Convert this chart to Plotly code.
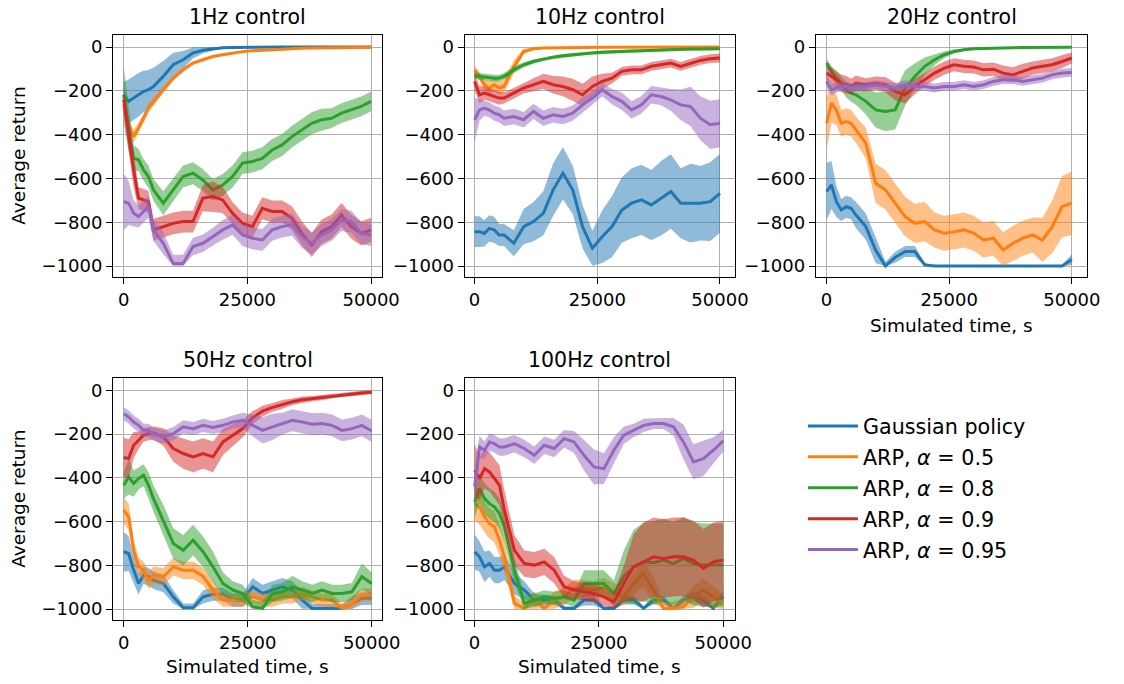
import numpy as np
import plotly.graph_objects as go

# ---------------- data ----------------
T = [0, 1000, 2000, 3000, 4000, 5000, 6000, 8000, 10000, 12000, 14000, 16000, 18000, 20000,
     22000, 24000, 26000, 28000, 30000, 32000, 34000, 36000, 38000, 40000, 42000, 44000,
     46000, 48000, 50000]

SERIES = ["Gaussian policy", "ARP, <i>α</i> = 0.5", "ARP, <i>α</i> = 0.8",
          "ARP, <i>α</i> = 0.9", "ARP, <i>α</i> = 0.95"]
COLORS = ["#1f77b4", "#ff7f0e", "#2ca02c", "#d62728", "#9467bd"]
TITLES = ["1Hz control", "10Hz control", "20Hz control", "50Hz control", "100Hz control"]
XTICKS = [0, 25000, 50000]
XTICKTEXT = ["0", "25000", "50000"]
YTICKS = [0, -200, -400, -600, -800, -1000]
YTICKTEXT = ["0", "−200", "−400", "−600", "−800", "−1000"]

# 1 Hz
HZ1_GAUSS = [-218,-248,-233,-218,-203,-195,-180,-134,-81,-58,-27,-15,-8,-3,-2,-1,-1,-1,-1,0,0,0,0,0,0,0,0,0,0]
HZ1_GAUSS_SD = [60,100,100,100,95,90,85,70,55,40,25,15,8,5,3,2,2,2,2,1,1,1,1,1,1,1,1,1,1]
HZ1_A05 = [-264,-363,-408,-370,-325,-279,-248,-195,-142,-104,-73,-58,-43,-35,-27,-21,-17,-14,-11,-8,-6,-5,-4,-3,-3,-2,-2,-2,-1]
HZ1_A05_SD = [30,35,30,25,20,20,18,15,12,10,8,7,6,5,4,4,3,3,3,2,2,2,2,2,2,2,2,2,2]
HZ1_A08 = [-218,-378,-508,-515,-561,-591,-652,-713,-652,-591,-576,-607,-652,-630,-591,-530,-523,-508,-470,-447,-409,-378,-348,-332,-325,-302,-287,-271,-248]
HZ1_A08_SD = [130,100,60,50,50,50,50,55,50,50,50,50,50,50,50,50,50,50,50,50,50,50,50,50,45,45,45,45,45]
HZ1_A09 = [-241,-400,-561,-690,-698,-706,-835,-820,-805,-797,-797,-690,-683,-698,-759,-805,-820,-736,-751,-751,-782,-851,-904,-843,-820,-767,-820,-851,-835]
HZ1_A09_SD = [60,80,80,50,50,50,50,50,50,50,50,60,70,60,50,50,50,50,50,50,55,55,55,55,55,55,55,55,55]
HZ1_A095 = [-706,-713,-759,-774,-751,-729,-835,-896,-988,-988,-911,-896,-866,-835,-812,-858,-873,-881,-835,-820,-812,-866,-896,-858,-835,-790,-797,-851,-858]
HZ1_A095_SD = [130,100,60,50,50,50,50,50,40,40,40,40,40,45,45,50,50,50,50,50,50,50,50,50,50,50,50,50,50]

# 10 Hz
HZ10_GAUSS = [-843,-843,-851,-828,-835,-858,-858,-896,-820,-797,-759,-652,-576,-652,-820,-919,-866,-820,-744,-713,-698,-721,-690,-660,-713,-713,-713,-706,-668]
HZ10_GAUSS_SD = [70,70,60,60,60,50,50,60,80,90,100,120,120,110,100,80,120,140,150,160,160,160,170,170,160,180,170,180,180]
HZ10_A05 = [-104,-134,-172,-187,-172,-187,-180,-90,-20,-8,-4,-3,-2,-2,-1,-1,-1,-1,-1,0,0,0,0,0,0,0,0,0,0]
HZ10_A05_SD = [20,20,25,30,30,30,30,30,12,5,3,2,2,2,2,2,2,2,2,2,2,2,2,2,2,2,2,2,2]
HZ10_A08 = [-131,-134,-137,-142,-142,-142,-134,-104,-81,-66,-55,-46,-40,-35,-30,-27,-24,-21,-20,-18,-17,-15,-14,-12,-11,-9,-9,-8,-8]
HZ10_A08_SD = [15,15,15,15,15,15,15,15,12,10,8,8,8,8,7,7,7,6,6,6,6,6,6,6,6,6,6,6,6]
HZ10_A09 = [-157,-218,-210,-218,-226,-233,-233,-210,-187,-172,-157,-172,-180,-195,-218,-180,-157,-142,-111,-104,-104,-88,-81,-73,-88,-73,-61,-53,-50]
HZ10_A09_SD = [40,40,30,30,30,30,25,25,25,30,35,40,45,50,50,45,35,25,20,20,20,20,20,20,20,20,20,20,20]
HZ10_A095 = [-332,-287,-279,-287,-302,-309,-325,-317,-332,-294,-325,-309,-317,-302,-264,-233,-195,-226,-248,-287,-264,-218,-226,-241,-264,-271,-325,-355,-348]
HZ10_A095_SD = [100,50,35,35,35,35,35,35,35,35,35,35,35,35,35,30,30,35,40,40,40,40,40,50,70,90,100,110,110]

# 20 Hz
HZ20_GAUSS = [-660,-630,-706,-744,-729,-736,-767,-820,-927,-1000,-960,-934,-934,-995,-1000,-1000,-1000,-1000,-1000,-1000,-1000,-1000,-1000,-1000,-1000,-1000,-1000,-1000,-970]
HZ20_GAUSS_SD = [130,110,70,50,50,50,60,60,60,20,25,25,25,10,2,2,2,2,2,2,2,2,2,2,2,2,2,5,25]
HZ20_A05 = [-348,-256,-287,-348,-340,-348,-378,-439,-622,-652,-713,-774,-805,-797,-835,-850,-843,-835,-850,-881,-873,-927,-896,-873,-858,-881,-820,-729,-713]
HZ20_A05_SD = [120,90,70,60,60,60,60,70,90,90,90,90,90,90,80,80,80,80,80,80,80,80,80,80,80,100,120,140,145]
HZ20_A08 = [-73,-111,-142,-165,-195,-210,-218,-248,-287,-294,-287,-187,-134,-88,-58,-35,-20,-12,-8,-6,-5,-3,-3,-2,-2,-2,-1,-1,-1]
HZ20_A08_SD = [20,25,30,30,35,40,45,60,80,90,90,80,60,40,25,15,10,6,4,3,3,2,2,2,2,2,2,2,2]
HZ20_A09 = [-119,-134,-149,-165,-172,-180,-165,-172,-165,-172,-203,-218,-180,-149,-119,-96,-81,-88,-91,-104,-101,-119,-127,-111,-96,-88,-81,-66,-50]
HZ20_A09_SD = [30,40,40,40,40,35,35,30,30,35,40,40,35,30,30,30,30,30,30,30,30,35,35,35,30,30,30,30,25]
HZ20_A095 = [-157,-195,-187,-180,-180,-187,-180,-180,-172,-180,-187,-172,-180,-180,-187,-180,-180,-172,-180,-172,-157,-149,-149,-157,-149,-142,-127,-119,-116]
HZ20_A095_SD = [30,25,20,20,20,20,20,20,20,20,20,20,20,20,20,20,20,20,20,20,20,20,20,20,20,20,20,20,20]

# 50 Hz
HZ50_GAUSS = [-738,-746,-822,-883,-845,-852,-868,-883,-944,-994,-994,-944,-932,-932,-959,-959,-898,-929,-913,-898,-913,-959,-997,-997,-997,-997,-974,-951,-951]
HZ50_GAUSS_SD = [90,80,60,50,40,40,40,40,30,20,20,30,30,30,30,30,40,40,40,40,40,40,20,20,20,20,30,30,30]
HZ50_A05 = [-548,-578,-731,-807,-822,-868,-845,-852,-807,-822,-822,-850,-913,-959,-959,-959,-944,-959,-959,-944,-944,-929,-944,-959,-959,-997,-974,-936,-936]
HZ50_A05_SD = [60,60,50,40,40,40,40,40,40,40,40,40,40,30,30,30,30,30,30,30,30,30,30,30,30,20,30,30,30]
HZ50_A08 = [-434,-396,-426,-403,-388,-434,-495,-594,-700,-731,-685,-738,-807,-883,-913,-929,-989,-997,-929,-921,-898,-913,-929,-913,-929,-929,-921,-852,-883]
HZ50_A08_SD = [60,80,60,50,50,60,60,70,70,70,70,70,70,50,40,40,30,30,40,40,50,40,40,40,40,40,40,60,50]
HZ50_A09 = [-307,-312,-251,-228,-205,-198,-195,-213,-266,-289,-304,-289,-304,-236,-205,-175,-125,-95,-78,-64,-52,-43,-38,-33,-26,-21,-15,-12,-9]
HZ50_A09_SD = [90,90,60,40,30,30,30,40,60,70,70,70,70,60,50,40,30,25,20,20,15,15,12,12,10,10,10,10,8]
HZ50_A095 = [-107,-122,-145,-160,-183,-183,-201,-213,-198,-167,-175,-160,-170,-160,-145,-137,-160,-183,-167,-152,-137,-145,-155,-152,-160,-183,-175,-160,-186]
HZ50_A095_SD = [30,30,30,30,30,30,30,30,30,30,30,30,30,30,30,35,50,60,60,50,50,50,50,50,50,50,50,50,50]

# 100 Hz
HZ100_GAUSS = [-738,-761,-807,-792,-822,-822,-807,-883,-913,-959,-959,-959,-997,-997,-959,-959,-997,-997,-959,-959,-997,-959,-959,-997,-959,-944,-959,-997,-944]
HZ100_GAUSS_SD = [80,70,70,60,60,60,60,50,40,30,25,20,10,10,25,25,10,10,20,20,10,20,20,10,20,25,25,15,30]
HZ100_A05 = [-518,-533,-578,-609,-624,-685,-761,-974,-997,-959,-997,-959,-944,-906,-906,-913,-898,-921,-944,-883,-837,-913,-997,-997,-989,-944,-913,-944,-974]
HZ100_A05_SD = [80,80,70,70,70,70,70,40,20,40,20,40,40,40,40,40,40,40,40,50,60,60,30,30,40,50,50,50,40]
HZ100_A08 = [-510,-449,-495,-518,-533,-563,-624,-822,-974,-959,-944,-951,-944,-959,-883,-883,-883,-929,-852,-807,-784,-788,-776,-792,-769,-792,-799,-799,-799]
HZ100_A08_SD = [70,70,70,70,70,70,70,60,40,30,30,30,30,30,60,60,60,60,120,170,180,190,190,190,190,190,190,190,190]
HZ100_A09 = [-365,-403,-358,-373,-403,-434,-548,-731,-792,-799,-784,-822,-898,-913,-921,-929,-944,-967,-883,-807,-784,-761,-769,-761,-761,-776,-814,-784,-776]
HZ100_A09_SD = [120,100,90,90,90,90,90,70,60,60,60,60,50,40,40,40,40,40,80,150,180,180,180,180,180,180,180,180,180]
HZ100_A095 = [-441,-259,-274,-236,-244,-259,-259,-244,-266,-297,-251,-266,-221,-236,-297,-350,-358,-274,-205,-183,-160,-152,-152,-167,-236,-327,-312,-274,-231]
HZ100_A095_SD = [100,50,40,40,40,40,40,40,40,40,40,40,40,50,70,80,70,60,40,30,30,25,25,40,80,80,80,60,50]

PANELS = [
    [(HZ1_GAUSS, HZ1_GAUSS_SD), (HZ1_A05, HZ1_A05_SD), (HZ1_A08, HZ1_A08_SD), (HZ1_A09, HZ1_A09_SD), (HZ1_A095, HZ1_A095_SD)],
    [(HZ10_GAUSS, HZ10_GAUSS_SD), (HZ10_A05, HZ10_A05_SD), (HZ10_A08, HZ10_A08_SD), (HZ10_A09, HZ10_A09_SD), (HZ10_A095, HZ10_A095_SD)],
    [(HZ20_GAUSS, HZ20_GAUSS_SD), (HZ20_A05, HZ20_A05_SD), (HZ20_A08, HZ20_A08_SD), (HZ20_A09, HZ20_A09_SD), (HZ20_A095, HZ20_A095_SD)],
    [(HZ50_GAUSS, HZ50_GAUSS_SD), (HZ50_A05, HZ50_A05_SD), (HZ50_A08, HZ50_A08_SD), (HZ50_A09, HZ50_A09_SD), (HZ50_A095, HZ50_A095_SD)],
    [(HZ100_GAUSS, HZ100_GAUSS_SD), (HZ100_A05, HZ100_A05_SD), (HZ100_A08, HZ100_A08_SD), (HZ100_A09, HZ100_A09_SD), (HZ100_A095, HZ100_A095_SD)],
]

# ---------------- layout geometry ----------------
W, H = 1124, 684
XDOM = [(115, 388.5), (472.3, 747), (829.3, 1105), (115, 388.5), (472.3, 747)]
YDOM = [(35, 277), (35, 277), (35, 277), (378.3, 620), (378.3, 620)]
XRANGES = [(-2130, 52250), (-2005, 53070), (-2150, 53150), (-2130, 52130), (-1980, 52370)]
YRANGE = (-1050, 55)
FONT = "DejaVu Sans"
TICKSIZE = 18


def rgba(hex_color, a):
    h = hex_color.lstrip("#")
    r, g, b = int(h[0:2], 16), int(h[2:4], 16), int(h[4:6], 16)
    return f"rgba({r},{g},{b},{a})"


fig = go.Figure()
for k, panel in enumerate(PANELS):
    xa = "x" if k == 0 else f"x{k + 1}"
    ya = "y" if k == 0 else f"y{k + 1}"
    t = np.array(T, dtype=float)
    for s, (mean, sd) in enumerate(panel):
        m = np.array(mean, dtype=float)
        d = np.array(sd, dtype=float)
        hi = np.clip(m + d, -1000, 0)
        lo = np.clip(m - d, -1000, 0)
        fig.add_trace(go.Scatter(
            x=np.concatenate([t, t[::-1]]), y=np.concatenate([hi, lo[::-1]]),
            fill="toself", fillcolor=rgba(COLORS[s], 0.5), line=dict(width=0),
            mode="lines", hoverinfo="skip", showlegend=False,
            legendgroup=str(s), xaxis=xa, yaxis=ya))
        fig.add_trace(go.Scatter(
            x=t, y=m, mode="lines", line=dict(color=COLORS[s], width=3),
            name=SERIES[s], legendgroup=str(s), showlegend=(k == 0),
            xaxis=xa, yaxis=ya))

layout = dict(
    width=W, height=H, margin=dict(l=0, r=0, t=0, b=0),
    paper_bgcolor="white", plot_bgcolor="white",
    font=dict(family=FONT, size=TICKSIZE, color="black"),
    legend=dict(x=816 / W, y=1 - 406 / H, xanchor="left", yanchor="top",
                font=dict(family=FONT, size=20.7, color="black"),
                traceorder="grouped", tracegroupgap=1, itemwidth=50,
                bgcolor="rgba(255,255,255,0)"),
    annotations=[],
)
for k in range(5):
    sx = "" if k == 0 else str(k + 1)
    common = dict(
        ticks="outside", ticklen=6, tickwidth=1.4, tickcolor="black",
        showline=True, linecolor="black", linewidth=1.4, mirror=True,
        showgrid=True, gridcolor="#b0b0b0", gridwidth=1.2, zeroline=False,
        tickfont=dict(family=FONT, size=TICKSIZE, color="black"))
    layout[f"xaxis{sx}"] = dict(
        domain=[XDOM[k][0] / W, XDOM[k][1] / W], range=list(XRANGES[k]),
        anchor=f"y{sx}", tickmode="array", tickvals=XTICKS, ticktext=XTICKTEXT, **common)
    layout[f"yaxis{sx}"] = dict(
        domain=[1 - YDOM[k][1] / H, 1 - YDOM[k][0] / H], range=list(YRANGE),
        anchor=f"x{sx}", tickmode="array", tickvals=YTICKS, ticktext=YTICKTEXT, **common)
    cx = (XDOM[k][0] + XDOM[k][1]) / 2 / W
    ty = 17.5 if k < 3 else 360
    layout["annotations"].append(dict(
        text=TITLES[k], x=cx, y=1 - ty / H, xref="paper", yref="paper",
        showarrow=False, xanchor="center", yanchor="middle",
        font=dict(family=FONT, size=20.5, color="black")))

# axis titles
for k, yc in [(2, 325), (3, 666), (4, 666)]:
    cx = (XDOM[k][0] + XDOM[k][1]) / 2 / W
    layout["annotations"].append(dict(
        text="Simulated time, s", x=cx, y=1 - yc / H, xref="paper", yref="paper",
        showarrow=False, xanchor="center", yanchor="middle",
        font=dict(family=FONT, size=18.5, color="black")))
for k in (0, 3):
    cy = (YDOM[k][0] + YDOM[k][1]) / 2
    layout["annotations"].append(dict(
        text="Average return", x=18 / W, y=1 - cy / H, xref="paper", yref="paper",
        showarrow=False, xanchor="center", yanchor="middle", textangle=-90,
        font=dict(family=FONT, size=18.5, color="black")))

fig.update_layout(**layout)
fig.write_html("out.html", config={"displayModeBar": False},
               post_script="document.body.style.margin='0';")
